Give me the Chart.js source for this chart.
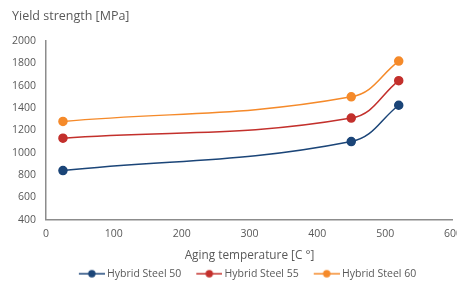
<!DOCTYPE html>
<html>
<head>
<meta charset="utf-8">
<script src="https://cdn.jsdelivr.net/npm/chart.js@4/dist/chart.umd.min.js"></script>
<style>
  html, body { margin: 0; padding: 0; background: #fff; overflow: hidden; }
  #wrap { width: 470px; height: 289px; }
</style>
</head>
<body>
<div id="wrap"><canvas id="grafico"></canvas></div>
<script>
// dados
const temperaturas = [25, 450, 520];
const steel50 = [840, 1100, 1425];
const steel55 = [1130, 1310, 1645];
const steel60 = [1280, 1500, 1820];
const nomesSeries = ['Hybrid Steel 50', 'Hybrid Steel 55', 'Hybrid Steel 60'];
const cores = ['#1b4578', '#c3302c', '#f58a2a'];

const cinza = '#595959';
const fonte = "'Open Sans', sans-serif";

function pontos(valores) {
  return temperaturas.map((t, i) => ({ x: t, y: valores[i] }));
}

// marcador da legenda: linha com ponto (margem à esquerda para espaçar os itens)
function marcador(cor) {
  const c = document.createElement('canvas');
  c.width = 42; c.height = 10;
  const g = c.getContext('2d');
  g.strokeStyle = cor; g.lineWidth = 1.5;
  g.beginPath(); g.moveTo(16, 5); g.lineTo(42, 5); g.stroke();
  g.fillStyle = cor;
  g.beginPath(); g.arc(29, 5, 3.7, 0, Math.PI * 2); g.fill();
  return c;
}

const series = [steel50, steel55, steel60];

new Chart(document.getElementById('grafico'), {
  type: 'scatter',
  data: {
    datasets: series.map((v, i) => ({
      label: nomesSeries[i],
      data: pontos(v),
      showLine: true,
      borderColor: cores[i],
      backgroundColor: cores[i],
      borderWidth: 1.5,
      pointRadius: 4,
      pointHoverRadius: 4,
      tension: 0.4
    }))
  },
  options: {
    responsive: true,
    maintainAspectRatio: false,
    animation: false,
    layout: { padding: { left: 12, right: 0, top: 0, bottom: 0 } },
    plugins: {
      title: {
        display: true,
        text: 'Yield strength [MPa]',
        align: 'start',
        color: cinza,
        font: { family: fonte, size: 12.5, weight: 'normal' },
        padding: { top: 9, bottom: 17 }
      },
      legend: {
        position: 'bottom',
        labels: {
          usePointStyle: true,
          pointStyleWidth: 36,
          color: cinza,
          font: { family: fonte, size: 10.5 },
          padding: 2,
          generateLabels: chart => chart.data.datasets.map((ds, i) => ({
            text: ds.label,
            fillStyle: ds.borderColor,
            strokeStyle: ds.borderColor,
            fontColor: cinza,
            pointStyle: marcador(ds.borderColor),
            datasetIndex: i
          }))
        }
      },
      tooltip: { enabled: false }
    },
    scales: {
      x: {
        type: 'linear',
        min: 0, max: 600,
        ticks: { stepSize: 100, color: cinza, font: { family: fonte, size: 10.5 }, padding: 8, callback: v => v },
        grid: { display: false, drawTicks: false },
        border: { color: '#8c8c8c', width: 1.5 },
        title: {
          display: true,
          text: 'Aging temperature [C °]',
          color: cinza,
          font: { family: fonte, size: 11.8 },
          padding: { top: 0, bottom: 4 }
        }
      },
      y: {
        min: 400, max: 2000,
        ticks: { stepSize: 200, color: cinza, font: { family: fonte, size: 10.5 }, padding: 10, callback: v => v },
        grid: { display: false, drawTicks: false },
        border: { color: '#8c8c8c', width: 1.5 },
        afterFit: escala => { escala.width = 34; }
      }
    }
  }
});
</script>
</body>
</html>
